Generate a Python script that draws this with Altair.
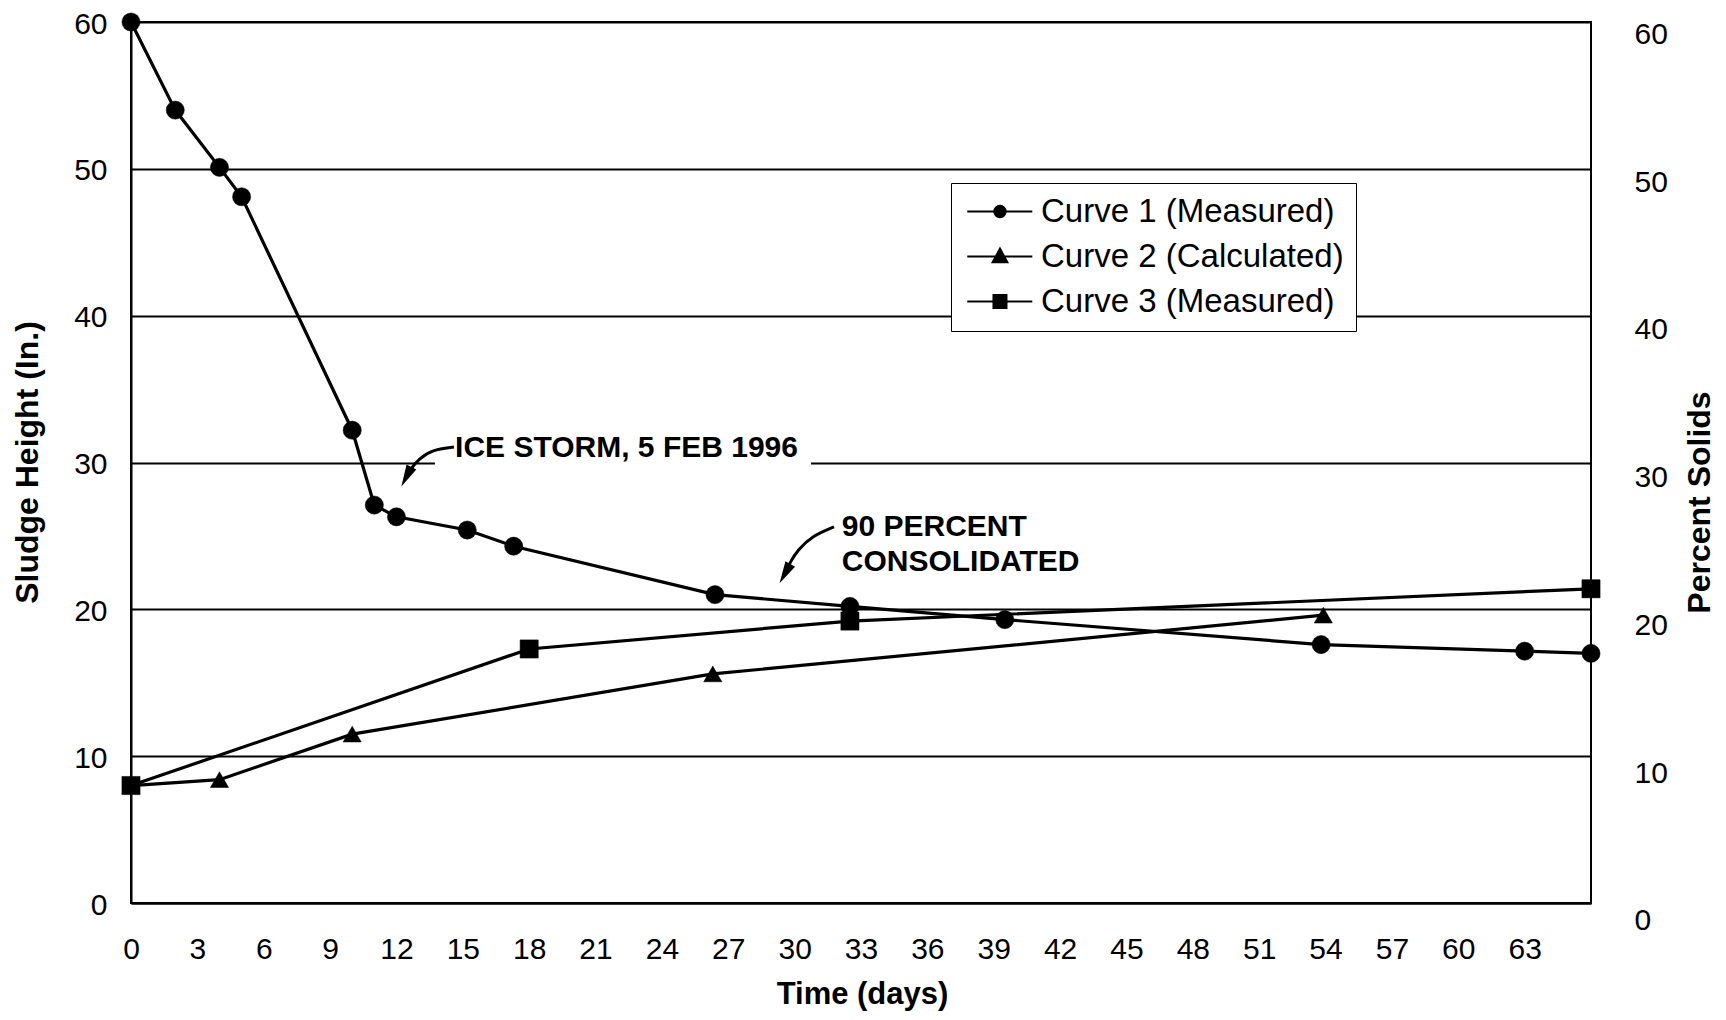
import altair as alt
import pandas as pd

# ---- data ----
curve_names = ["Curve 1 (Measured)", "Curve 2 (Calculated)", "Curve 3 (Measured)"]
marker_keys = ["circle", "triangle-up", "square"]
c1_day = [0, 2, 4, 5, 10, 11, 12, 15.2, 17.3, 26.4, 32.5, 39.5, 53.8, 63, 66]
c1_val = [60, 54, 50.1, 48.1, 32.2, 27.1, 26.3, 25.4, 24.3, 21.0, 20.2, 19.3, 17.6, 17.15, 17.0]
c2_day = [0, 4, 10, 26.3, 53.9]
c2_val = [8.0, 8.4, 11.5, 15.6, 19.6]
c3_day = [0, 18, 32.5, 66]
c3_val = [8.0, 17.3, 19.2, 21.4]

x_ticks = list(range(0, 64, 3))
y_ticks = [0, 10, 20, 30, 40, 50, 60]
right_ticks = [0, 10, 20, 30, 40, 50, 60]

note_text = ["ICE STORM, 5 FEB 1996", "90 PERCENT", "CONSOLIDATED"]
note_day = [14.65, 32.13, 32.13]
note_val = [30.97, 25.58, 23.19]

arrow_id = ["ice"] * 5 + ["pct"] * 5
arrow_day = [14.6, 13.6, 13.02, 12.61, 12.45, 31.78, 30.79, 30.15, 29.8, 29.56]
arrow_val = [31.05, 30.86, 30.25, 29.5, 29.03, 25.62, 25.0, 24.05, 23.23, 22.43]
head_day = [12.45, 29.56]
head_val = [29.03, 22.43]
head_angle = [207.3, 209.2]

gap_day = [13.74]
gap_day2 = [30.74]
gap_val = [29.55]
gap_val2 = [30.45]

# ---- tables ----
rows = []
for name, key, ds, vs in zip(curve_names, marker_keys, [c1_day, c2_day, c3_day], [c1_val, c2_val, c3_val]):
    for i, (d, v) in enumerate(zip(ds, vs)):
        rows.append({"curve": name, "marker": key, "day": d, "value": v, "ord": i})
df = pd.DataFrame(rows)
notes = pd.DataFrame({"note": note_text, "day": note_day, "value": note_val})
arrows = pd.DataFrame({"aid": arrow_id, "day": arrow_day, "value": arrow_val,
                       "ord": list(range(len(arrow_day)))})
heads = pd.DataFrame({"day": head_day, "value": head_val, "ang": head_angle})
gap = pd.DataFrame({"day": gap_day, "day2": gap_day2, "value": gap_val, "value2": gap_val2})

FONT = "Liberation Sans"

x_enc = alt.X("day:Q", scale=alt.Scale(domain=[0, 66], nice=False, zero=False),
              axis=alt.Axis(values=x_ticks, title="Time (days)", grid=False, ticks=False,
                            labelFontSize=30, labelPadding=31, labelFlush=False, labelOverlap=False,
                            titleFontSize=31, titleFontWeight="bold", titleX=731, titleY=91,
                            titleBaseline="middle", titleAlign="center",
                            domainColor="black", domainWidth=2))
y_enc = alt.Y("value:Q", scale=alt.Scale(domain=[0, 60], nice=False, zero=False),
              axis=alt.Axis(values=y_ticks, title="Sludge Height (In.)", grid=True,
                            gridColor="black", gridWidth=2.2, gridOpacity=1, ticks=False,
                            labelFontSize=30, labelPadding=24, labelFlush=False, labelOffset=2,
                            titleFontSize=32, titleFontWeight="bold", titleAngle=270,
                            titleX=-104, titleY=440, titleAlign="center", titleBaseline="middle",
                            domainColor="black", domainWidth=2))

# legend glyphs: a short line with the marker on it (unit = 8 px)
p1 = "M-1.53,0L6.6,0M1.86,0A0.7,0.7,0,1,1,3.26,0A0.7,0.7,0,1,1,1.86,0Z"
p2 = "M-1.53,0L6.6,0M2.56,-0.95L3.46,0.7L1.66,0.7Z"
p3 = "M-1.53,0L6.6,0M1.76,-0.8L3.36,-0.8L3.36,0.8L1.76,0.8Z"
shape_expr = ("datum.value === '%s' ? '%s' : (datum.value === '%s' ? '%s' : '%s')"
              % (curve_names[0], p1, curve_names[1], p2, p3))

legend = alt.Legend(
    title=None, orient="none", legendX=820, legendY=161, padding=12,
    strokeColor="black", fillColor="white",
    labelFont=FONT, labelFontSize=33, labelColor="black", labelLimit=600,
    labelOffset=45, symbolSize=256, rowPadding=11,
    symbolType=alt.ExprRef(expr=shape_expr),
    symbolStrokeColor="black", symbolStrokeWidth=2.2, symbolFillColor="black",
)

mask = alt.Chart(gap).mark_rect(color="white").encode(
    x=x_enc, x2=alt.X2("day2:Q"), y=y_enc, y2=alt.Y2("value2:Q"))

lines = alt.Chart(df).mark_line(color="black", strokeWidth=3.2).encode(
    x=x_enc, y=y_enc, detail="curve:N", order=alt.Order("ord:Q"))

points = alt.Chart(df).mark_point(filled=True, size=330, opacity=1, stroke="black", strokeWidth=0.5).encode(
    x=x_enc, y=y_enc,
    color=alt.Color("curve:N", scale=alt.Scale(domain=curve_names, range=["black", "black", "black"]),
                    legend=legend),
    shape=alt.Shape("marker:N", scale=alt.Scale(domain=marker_keys, range=marker_keys), legend=None))

shafts = alt.Chart(arrows).mark_line(color="black", strokeWidth=3, interpolate="basis").encode(
    x=x_enc, y=y_enc, detail="aid:N", order=alt.Order("ord:Q"))

arrowheads = alt.Chart(heads).mark_point(
    shape="M0,-1L0.5,1L-0.5,1Z", filled=True, color="black", size=484, opacity=1).encode(
    x=x_enc, y=y_enc, angle=alt.Angle("ang:Q", scale=None))

texts = alt.Chart(notes).mark_text(
    align="left", baseline="middle", fontSize=30, fontWeight="bold", font=FONT, color="black").encode(
    x=x_enc, y=y_enc, text="note:N")

main = alt.layer(mask, lines, points, shafts, arrowheads, texts)

right = alt.Chart(pd.DataFrame({"pct": right_ticks})).mark_point(opacity=0).encode(
    y=alt.Y("pct:Q", scale=alt.Scale(domain=[0, 60], range=[898.7, 12.5], nice=False, zero=False),
            axis=alt.Axis(orient="right", values=right_ticks, title="Percent Solids", grid=False,
                          ticks=False, domain=False, labelFontSize=30, labelPadding=43,
                          labelFlush=False,
                          titleFontSize=32, titleFontWeight="bold", titleAngle=270,
                          titleX=108, titleY=480, titleAlign="center", titleBaseline="middle")))

chart = alt.layer(main, right).resolve_scale(y="independent").properties(
    width=1460, height=881,
    autosize=alt.AutoSizeParams(type="none"),
    padding={"left": 123, "top": 14, "right": 127, "bottom": 108},
).configure(font=FONT).configure_view(stroke="black", strokeWidth=2).configure_axis(
    labelColor="black", titleColor="black", labelFont=FONT, titleFont=FONT)

chart.save("out.html", embed_options={"renderer": "svg", "actions": False})
